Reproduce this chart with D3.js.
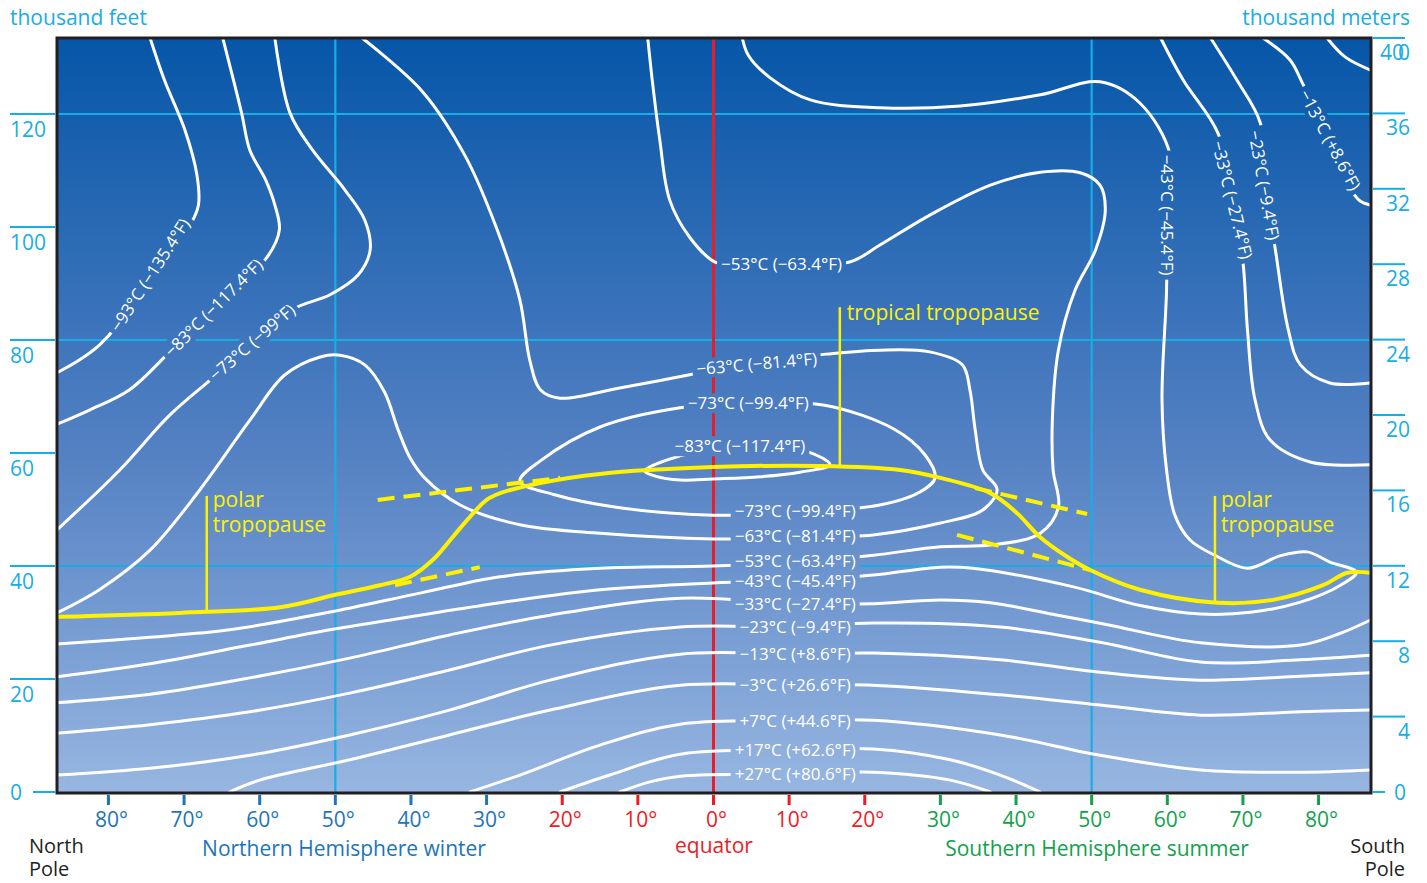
<!DOCTYPE html>
<html><head><meta charset="utf-8">
<script src="https://cdn.jsdelivr.net/npm/d3@7"></script>
<style>
body{margin:0;background:#fff;}
text{font-family:"Open Sans","Noto Sans",sans-serif;}
</style></head>
<body><svg id="c" width="1427" height="883"></svg>
<script>
// ---------- DATA ----------
const latTicks = [80,70,60,50,40,30,20,10,0,-10,-20,-30,-40,-50,-60,-70,-80];
const feetTicks = [0,20,40,60,80,100,120];
const kmTicks = [0,4,8,12,16,20,24,28,32,36,40];
const gridFeet = [40,80,120];
const gridLat = [50,-50];

// contours: [latitude (+N / -S), altitude thousand feet]
const c93 = [[74.5,133.5],[72.6,126.0],[69.9,117.2],[68.3,109.2],[68.1,103.9],[69.2,100.4],[74.5,92.0],[78.8,82.7],[81.2,79.1],[83.8,76.5],[86.8,74.2]];
const c83 = [[64.9,133.5],[62.4,120.2],[61.3,113.6],[59.2,108.3],[58.0,103.9],[57.4,99.5],[59.0,94.7],[66.1,85.7],[71.9,77.9],[77.2,71.2],[82.5,67.6],[86.8,65.1]];
const c73a = [[58.0,133.5],[56.0,120.2],[53.0,113.6],[48.7,106.5],[46.1,101.2],[45.4,95.9],[47.0,91.5],[50.7,88.0],[55.8,85.3],[66.2,73.3],[71.9,66.7],[78.5,57.0],[86.8,46.4]];
const c73loop = [[25.6,55.0],[22.9,58.6],[15.0,64.6],[4.4,68.0],[-4.6,68.8],[-14.5,68.5],[-23.9,64.2],[-28.0,59.6],[-29.3,55.6],[-27.3,53.1],[-22.0,50.8],[-11.4,49.6],[0.1,49.0],[12.4,50.3],[21.0,52.6]];
const c83loop = [[9.1,56.8],[4.4,59.5],[-3.5,61.2],[-12.5,60.2],[-15.4,57.9],[-11.4,56.6],[-6.2,55.8],[0.1,55.4],[4.4,55.2],[7.7,55.9]];
const c63 = [[86.8,31.7],[81.2,35.8],[74.5,42.8],[67.9,53.5],[61.3,65.8],[56.7,73.8],[52.0,77.0],[49.4,77.3],[46.1,75.6],[43.5,70.8],[41.7,64.1],[40.1,59.1],[38.2,55.6],[33.5,50.8],[25.6,47.3],[15.0,45.8],[0.1,44.8],[-11.4,45.1],[-21.1,45.5],[-30.0,47.6],[-35.6,49.9],[-37.5,53.5],[-35.6,57.0],[-34.6,64.1],[-33.9,71.2],[-32.9,75.6],[-28.6,77.9],[-22.0,78.2],[-14.9,77.5],[-5.7,76.1],[1.8,74.2],[12.4,71.5],[20.3,69.7],[22.9,71.2],[24.3,76.5],[25.6,87.1],[28.6,99.5],[32.8,112.5],[38.5,124.0],[46.5,133.5]];
const c53 = [[86.8,26.2],[74.5,27.4],[64.0,28.7],[50.1,32.0],[38.8,35.2],[28.2,38.1],[15.0,39.6],[0.1,40.0],[-11.4,40.7],[-21.1,41.9],[-30.0,43.4],[-36.6,43.7],[-43.2,45.8],[-45.6,50.4],[-44.9,57.0],[-44.8,65.8],[-45.6,78.2],[-47.8,88.8],[-50.5,95.9],[-51.8,103.0],[-51.1,107.4],[-48.5,109.6],[-43.2,109.7],[-36.6,107.4],[-28.6,102.1],[-22.0,96.8],[-18.0,93.8],[-9.0,93.5],[-2.2,93.5],[-0.2,93.8],[3.1,98.1],[5.8,104.8],[7.1,115.4],[8.1,126.0],[8.7,133.5]];
const c43 = [[86.8,20.4],[74.5,22.7],[61.3,26.0],[50.7,28.7],[38.8,31.3],[28.2,33.5],[15.0,35.8],[0.1,37.0],[-11.4,37.5],[-21.1,38.4],[-30.0,39.8],[-34.3,39.6],[-47.6,36.3],[-56.4,33.0],[-64.4,31.5],[-71.0,31.8],[-77.6,33.6],[-82.9,36.6],[-85.0,38.9],[-81.5,40.7],[-78.5,42.5],[-74.9,41.8],[-70.6,39.6],[-66.3,41.9],[-63.0,44.6],[-61.0,49.0],[-59.9,57.0],[-59.3,69.4],[-59.9,88.8],[-60.0,102.1],[-60.4,112.7],[-56.4,121.9],[-51.1,125.7],[-43.2,123.4],[-32.6,121.4],[-22.0,121.1],[-12.8,122.5],[-7.5,126.4],[-4.6,130.4],[-3.8,133.5]];
const c33a = [[86.8,15.8],[74.5,17.3],[61.3,20.2],[48.1,23.7],[34.9,27.8],[21.6,31.3],[4.4,34.3],[-11.4,33.3],[-21.1,33.3],[-30.0,34.0],[-36.6,33.5],[-45.5,31.3],[-52.1,29.6],[-64.4,26.4],[-77.6,26.0],[-82.9,28.1],[-86.8,30.4]];
const c33b = [[-59.1,133.5],[-62.1,126.0],[-66.7,116.6],[-68.6,104.8],[-70.0,93.8],[-70.6,81.8],[-71.6,69.4],[-73.6,62.3],[-78.9,58.4],[-86.8,57.9]];
const c23a = [[86.8,10.4],[74.5,11.9],[61.3,14.2],[48.1,17.5],[34.9,21.6],[21.6,26.0],[4.4,29.2],[-11.4,29.2],[-21.1,29.9],[-37.9,29.2],[-51.1,26.5],[-64.4,23.0],[-77.6,23.4],[-86.8,24.2]];
const c23b = [[-65.7,133.5],[-69.2,126.0],[-72.3,118.4],[-73.0,107.4],[-74.3,95.9],[-76.0,81.8],[-77.6,75.6],[-81.5,72.4],[-86.8,72.4]];
const c13a = [[86.8,3.0],[74.5,4.2],[61.3,6.5],[48.1,10.1],[34.9,14.5],[21.6,19.8],[4.4,24.4],[-11.4,24.4],[-21.1,24.6],[-37.9,23.4],[-51.1,21.2],[-64.4,19.8],[-77.6,20.5],[-86.8,21.1]];
const c13b = [[-72.6,133.5],[-76.2,129.6],[-78.0,125.1],[-81.5,115.4],[-84.5,106.2],[-85.5,104.6],[-86.8,103.9]];
const cm3 = [[64.0,0],[60.0,2.1],[48.1,5.7],[34.9,10.1],[21.6,14.5],[4.4,18.9],[-11.4,18.9],[-21.1,18.9],[-37.9,17.2],[-51.1,15.4],[-64.4,13.6],[-77.6,14.2],[-86.8,14.5]];
const cm3top = [[-81.1,133.5],[-83.5,130.1],[-86.8,127.8]];
const cp7 = [[32.2,0],[25.6,3.0],[15.0,8.3],[4.4,12.0],[-11.4,12.6],[-21.1,12.7],[-37.9,10.1],[-51.1,6.5],[-64.4,3.9],[-77.6,3.5],[-86.8,3.9]];
const cp17 = [[20.3,0],[13.7,3.0],[4.4,6.7],[-11.4,7.4],[-21.1,7.6],[-31.3,5.7],[-37.9,3.0],[-43.2,0]];
const cp27 = [[12.4,0],[8.4,1.8],[4.4,2.8],[-11.4,3.2],[-21.1,3.5],[-31.3,2.1],[-36.6,0]];

const openContours = [c93,c83,c73a,c63,c53,c43,c33a,c33b,c23a,c23b,c13a,c13b,cm3,cm3top,cp7,cp17,cp27];
const closedContours = [c73loop,c83loop];

// contour labels: text, lat, kft, angle
const labelText = ["−93°C (−135.4°F)","−83°C (−117.4°F)","−73°C (−99°F)","−53°C (−63.4°F)","−63°C (−81.4°F)","−73°C (−99.4°F)","−83°C (−117.4°F)",
 "−73°C (−99.4°F)","−63°C (−81.4°F)","−53°C (−63.4°F)","−43°C (−45.4°F)","−33°C (−27.4°F)","−23°C (−9.4°F)","−13°C (+8.6°F)","−3°C (+26.6°F)","+7°C (+44.6°F)","+17°C (+62.6°F)","+27°C (+80.6°F)",
 "−43°C (−45.4°F)","−33°C (−27.4°F)","−23°C (−9.4°F)","−13°C (+8.6°F)"];
const labelLat = [74.5,66.1,61.0,-9.0,-5.7,-4.6,-3.5, -10.8,-10.8,-10.8,-10.8,-10.8,-10.8,-10.8,-10.8,-10.8,-10.8,-10.8, -60.0,-68.6,-72.8,-81.5];
const labelAlt = [91.5,85.7,79.6,93.5,75.8,68.8,61.2, 49.7,45.3,40.9,37.3,33.3,29.2,24.4,18.9,12.6,7.4,3.2, 102.1,104.8,107.4,115.4];
const labelAngle = [-57,-45,-41,0,-5,0,0, 0,0,0,0,0,0,0,0,0,0,0, 90,76,80,62];

// tropopause
const tropo = [[86.8,31.0],[70.6,31.7],[57.3,32.7],[50.0,34.9],[44.1,36.6],[40.1,38.1],[37.1,41.1],[34.5,45.1],[32.2,48.7],[30.0,51.7],[28.2,52.9],[22.9,54.7],[15.0,56.3],[0.1,57.5],[-14.1,57.7],[-24.7,57.0],[-30.0,55.6],[-36.6,52.9],[-40.1,49.4],[-43.2,45.1],[-46.8,41.6],[-49.8,39.3],[-56.4,35.8],[-66.6,33.5],[-74.0,34.0],[-80.6,36.6],[-83.8,38.8],[-86.8,38.8]];
const dashA = [[42.1,36.6],[30.9,39.8]];
const dashB = [[44.4,51.7],[20.3,55.6]];
const dashC = [[-34.6,53.8],[-49.4,49.2]];
const dashD = [[-32.2,45.5],[-49.8,39.3]];
const pointerLat = [67.0,-66.3,-16.7];
const pointerTop = [52.4,52.4,85.8];
const pointerBottom = [32.2,33.5,57.7];

// ---------- DRAW ----------
const svg = d3.select("#c");
const x = d3.scaleLinear().domain([86.8,-86.8]).range([57,1370]);
const yFt = d3.scaleLinear().domain([0,133.45]).range([792,38]);
const yKm = d3.scaleLinear().domain([0,40]).range([792,38]);
const CYAN="#17ade6", RED="#ed1c24", YEL="#fff200", BLUE="#1c74bb", GREEN="#12a14b";
const FS = 21;

const defs = svg.append("defs");
const g = defs.append("linearGradient").attr("id","bg").attr("x1",0).attr("x2",0).attr("y1",0).attr("y2",1);
g.append("stop").attr("offset","0").attr("stop-color","#0656a8");
g.append("stop").attr("offset","0.55").attr("stop-color","#5481c3");
g.append("stop").attr("offset","1").attr("stop-color","#97b6e1");
const mask = defs.append("mask").attr("id","lm").attr("maskUnits","userSpaceOnUse").attr("x",0).attr("y",0).attr("width",1427).attr("height",883);
mask.append("rect").attr("width",1427).attr("height",883).attr("fill","#fff");

svg.append("rect").attr("x",57).attr("y",38).attr("width",1313).attr("height",754).attr("fill","url(#bg)");

const masked = svg.append("g").attr("mask","url(#lm)");
masked.selectAll(".gh").data(gridFeet).join("line")
 .attr("x1",x(86.8)).attr("x2",x(-86.8)).attr("y1",d=>yFt(d)).attr("y2",d=>yFt(d))
 .attr("stroke",CYAN).attr("stroke-width",2);
masked.selectAll(".gv").data(gridLat).join("line")
 .attr("x1",d=>x(d)).attr("x2",d=>x(d)).attr("y1",38).attr("y2",792)
 .attr("stroke",CYAN).attr("stroke-width",2.2);
masked.append("line").attr("x1",x(0)).attr("x2",x(0)).attr("y1",38).attr("y2",792).attr("stroke",RED).attr("stroke-width",3);

const line = d3.line().x(d=>x(d[0])).y(d=>yFt(d[1])).curve(d3.curveCatmullRom.alpha(0.5));
const lineC = d3.line().x(d=>x(d[0])).y(d=>yFt(d[1])).curve(d3.curveCatmullRomClosed.alpha(0.5));
masked.selectAll(".co").data(openContours).join("path").attr("d",line)
 .attr("fill","none").attr("stroke","#fff").attr("stroke-width",3).attr("stroke-linecap","round");
masked.selectAll(".cc").data(closedContours).join("path").attr("d",lineC)
 .attr("fill","none").attr("stroke","#fff").attr("stroke-width",3);

const labels = labelText.map((t,i)=>({t,lat:labelLat[i],alt:labelAlt[i],a:labelAngle[i]}));
const lg = svg.append("g");
lg.selectAll("text").data(labels).join("text")
 .attr("transform",d=>`translate(${x(d.lat)},${yFt(d.alt)}) rotate(${d.a})`)
 .attr("text-anchor","middle").attr("dy","0.36em").attr("fill","#fff").attr("font-size",17)
 .text(d=>d.t)
 .each(function(d){
   const L=this.getComputedTextLength();
   mask.append("rect").attr("x",-L/2-4).attr("y",-10).attr("width",L+8).attr("height",20)
     .attr("transform",`translate(${x(d.lat)},${yFt(d.alt)}) rotate(${d.a})`).attr("fill","#000");
 });

svg.append("path").attr("d",line(tropo)).attr("fill","none").attr("stroke",YEL).attr("stroke-width",4);
[dashA,dashB,dashC,dashD].forEach(dd=>{
 svg.append("path").attr("d",d3.line().x(d=>x(d[0])).y(d=>yFt(d[1]))(dd)).attr("fill","none")
  .attr("stroke",YEL).attr("stroke-width",4).attr("stroke-dasharray","17,9");
});
pointerLat.forEach((p,i)=>{
 svg.append("line").attr("x1",x(p)).attr("x2",x(p)).attr("y1",yFt(pointerTop[i])).attr("y2",yFt(pointerBottom[i]))
  .attr("stroke",YEL).attr("stroke-width",2.5);
});
const tt = svg.append("g").attr("fill",YEL).attr("font-size",FS);
[0,1].forEach(i=>{
 tt.append("text").attr("x",x(pointerLat[i])+6).attr("y",yFt(pointerTop[i])+11).text("polar");
 tt.append("text").attr("x",x(pointerLat[i])+6).attr("y",yFt(pointerTop[i])+36).text("tropopause");
});
tt.append("text").attr("x",x(pointerLat[2])+7).attr("y",yFt(pointerTop[2])+13).text("tropical tropopause");

svg.append("rect").attr("x",57).attr("y",38).attr("width",1314).attr("height",755)
 .attr("fill","none").attr("stroke","#231f20").attr("stroke-width",3);

svg.selectAll(".lt").data(feetTicks).join("line")
 .attr("x1",d=>d===0?33:10).attr("x2",55).attr("y1",d=>yFt(d)).attr("y2",d=>yFt(d))
 .attr("stroke",CYAN).attr("stroke-width",2);
svg.selectAll(".ll").data(feetTicks).join("text")
 .attr("x",10).attr("y",d=>d===0?yFt(d)+8:yFt(d)+23).attr("fill",CYAN).attr("font-size",FS).text(d=>d);
svg.selectAll(".rt").data(kmTicks).join("line")
 .attr("x1",1373).attr("x2",d=>d===0?1385:1405).attr("y1",d=>yKm(d)).attr("y2",d=>yKm(d))
 .attr("stroke",CYAN).attr("stroke-width",2);
svg.selectAll(".rl").data(kmTicks).join("text")
 .attr("x",d=>d===0?1406:(d===40?1404:1410)).attr("y",d=>d===0?yKm(d)+8:yKm(d)+22).attr("text-anchor","end")
 .attr("fill",CYAN).attr("font-size",FS).text(d=>d);
svg.append("text").attr("x",1410).attr("y",yKm(40)+22).attr("text-anchor","end").attr("fill",CYAN).attr("font-size",FS).text("0");

const tc = d=> d>=30?BLUE:(d<=-30?GREEN:RED);
svg.selectAll(".bt").data(latTicks).join("line")
 .attr("x1",d=>x(d)).attr("x2",d=>x(d)).attr("y1",795).attr("y2",805).attr("stroke",tc).attr("stroke-width",3);
svg.selectAll(".bl").data(latTicks).join("text")
 .attr("x",d=>x(d)+3).attr("y",827).attr("text-anchor","middle").attr("fill",tc).attr("font-size",FS)
 .text(d=>Math.abs(d)+"°");

const t = (tx,xx,yy,col,anc,fs)=>svg.append("text").attr("x",xx).attr("y",yy).attr("fill",col).attr("font-size",fs||FS).attr("text-anchor",anc||"start").text(tx);
t("thousand feet",10,25,CYAN);
t("thousand meters",1410,25,CYAN,"end");
t("North",29,853,"#231f20","start",20);
t("Pole",29,876,"#231f20","start",20);
t("South",1405,853,"#231f20","end",20);
t("Pole",1405,876,"#231f20","end",20);
t("Northern Hemisphere winter",344,856,BLUE,"middle");
t("equator",714,853,RED,"middle");
t("Southern Hemisphere summer",1097,856,GREEN,"middle");
</script></body></html>
